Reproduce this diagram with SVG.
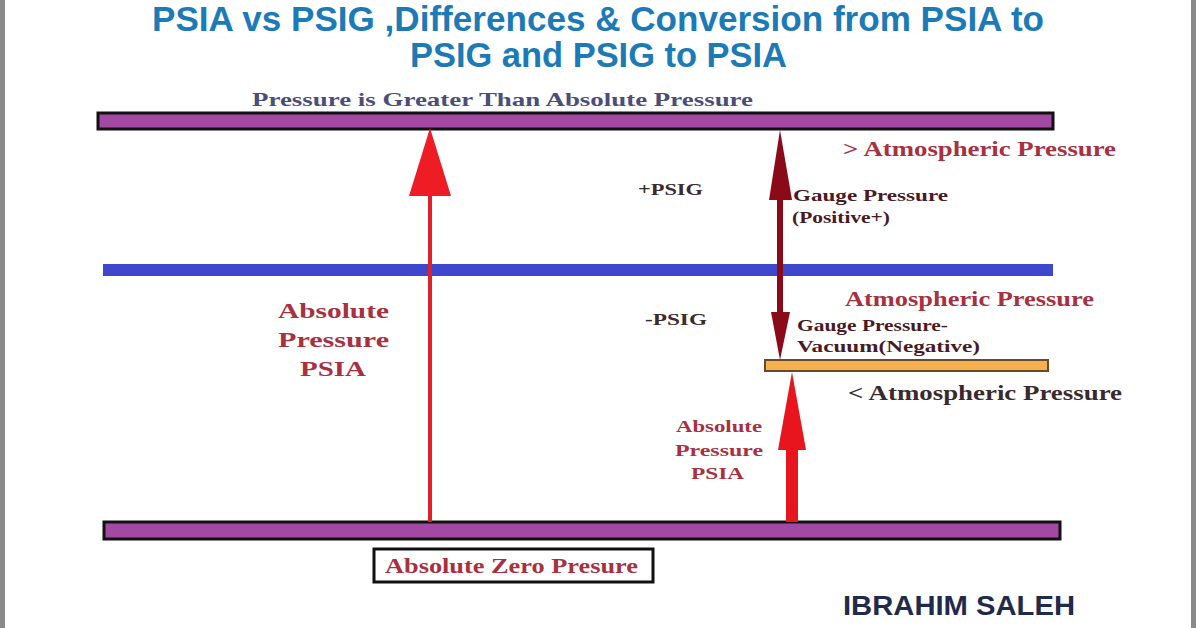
<svg xmlns="http://www.w3.org/2000/svg" width="1196" height="628" viewBox="0 0 1196 628">
<style>
.title{font-family:"Liberation Sans",Arial,sans-serif;font-weight:bold;font-size:35px;fill:#1c7bb6}
.serif{font-family:"Liberation Serif","Times New Roman",serif;font-weight:bold}
.red{fill:#a8303f}
.dark{fill:#3a2a2e}
.maroon{fill:#4a1a24}
.bar{fill:#a349a4;stroke:#111;stroke-width:3}
</style>
<rect width="1196" height="628" fill="#fff"/>
<rect x="0" y="0" width="5" height="628" fill="#8a8a8a"/>
<rect x="1191" y="0" width="5" height="628" fill="#8a8a8a"/>
<g id="title">
<text class="title" x="152" y="31" textLength="892" lengthAdjust="spacingAndGlyphs">PSIA vs PSIG ,Differences &amp;  Conversion from PSIA to</text>
<text class="title" x="410" y="67" textLength="377" lengthAdjust="spacingAndGlyphs">PSIG and PSIG to PSIA</text>
</g>
<g id="top-level">
<text class="serif" x="252" y="106" font-size="19" fill="#4b4d7a" textLength="501" lengthAdjust="spacingAndGlyphs">Pressure is Greater Than Absolute Pressure</text>
<rect class="bar" x="98" y="113" width="955" height="16"/>
</g>
<g id="atmospheric-line">
<rect x="103" y="264" width="950" height="12" fill="#3f48cc"/>
</g>
<g id="vacuum-level">
<rect x="765" y="360" width="283" height="11" fill="#f5b04f" stroke="#6a4a2a" stroke-width="2"/>
</g>
<g id="zero-level">
<rect class="bar" x="104" y="522" width="956" height="17"/>
<rect x="374" y="549" width="279" height="33" fill="#fff" stroke="#111" stroke-width="3"/>
<text class="serif red" x="385" y="573" font-size="20" textLength="253" lengthAdjust="spacingAndGlyphs">Absolute Zero Presure</text>
</g>
<g id="connectors">
<line x1="430" y1="522" x2="430" y2="194" stroke="#e0202a" stroke-width="4"/>
<polygon points="430,128 409,196 451,196" fill="#ee1c24"/>
<rect x="777" y="198" width="6" height="116" fill="#8b0a1a"/>
<polygon points="780,130 769,200 792,200" fill="#8b0a1a"/>
<polygon points="780,360 771,312 790,312" fill="#8b0a1a"/>
<rect x="786" y="448" width="12" height="74" fill="#e8141e"/>
<polygon points="792,372 778,450 806,450" fill="#e8141e"/>
</g>
<g id="labels">
<text class="serif red" x="843" y="156" font-size="20" textLength="273" lengthAdjust="spacingAndGlyphs">&gt; Atmospheric Pressure</text>
<text class="serif dark" x="638" y="195" font-size="16" textLength="65" lengthAdjust="spacingAndGlyphs">+PSIG</text>
<text class="serif maroon" x="793" y="201" font-size="17" textLength="155" lengthAdjust="spacingAndGlyphs">Gauge Pressure</text>
<text class="serif maroon" x="792" y="223" font-size="17" textLength="98" lengthAdjust="spacingAndGlyphs">(Positive+)</text>
<text class="serif red" x="845" y="306" font-size="20" textLength="249" lengthAdjust="spacingAndGlyphs">Atmospheric Pressure</text>
<text class="serif dark" x="645" y="325" font-size="16" textLength="62" lengthAdjust="spacingAndGlyphs">-PSIG</text>
<text class="serif maroon" x="797" y="331" font-size="17" textLength="151" lengthAdjust="spacingAndGlyphs">Gauge Pressure-</text>
<text class="serif maroon" x="797" y="352" font-size="17" textLength="183" lengthAdjust="spacingAndGlyphs">Vacuum(Negative)</text>
<text class="serif dark" x="848" y="400" font-size="20" textLength="274" lengthAdjust="spacingAndGlyphs">&lt; Atmospheric Pressure</text>
<text class="serif red" x="278" y="318" font-size="22" textLength="111" lengthAdjust="spacingAndGlyphs">Absolute</text>
<text class="serif red" x="278" y="347" font-size="22" textLength="111" lengthAdjust="spacingAndGlyphs">Pressure</text>
<text class="serif red" x="300" y="376" font-size="22" textLength="66" lengthAdjust="spacingAndGlyphs">PSIA</text>
<text class="serif red" x="676" y="432" font-size="16" textLength="86" lengthAdjust="spacingAndGlyphs">Absolute</text>
<text class="serif red" x="675" y="456" font-size="16" textLength="88" lengthAdjust="spacingAndGlyphs">Pressure</text>
<text class="serif red" x="691" y="479" font-size="16" textLength="53" lengthAdjust="spacingAndGlyphs">PSIA</text>
</g>
<g id="author">
<text x="843" y="615" font-family="Liberation Sans,Arial,sans-serif" font-weight="bold" font-size="27" fill="#1f2a4c" textLength="232" lengthAdjust="spacingAndGlyphs">IBRAHIM SALEH</text>
</g>
</svg>
